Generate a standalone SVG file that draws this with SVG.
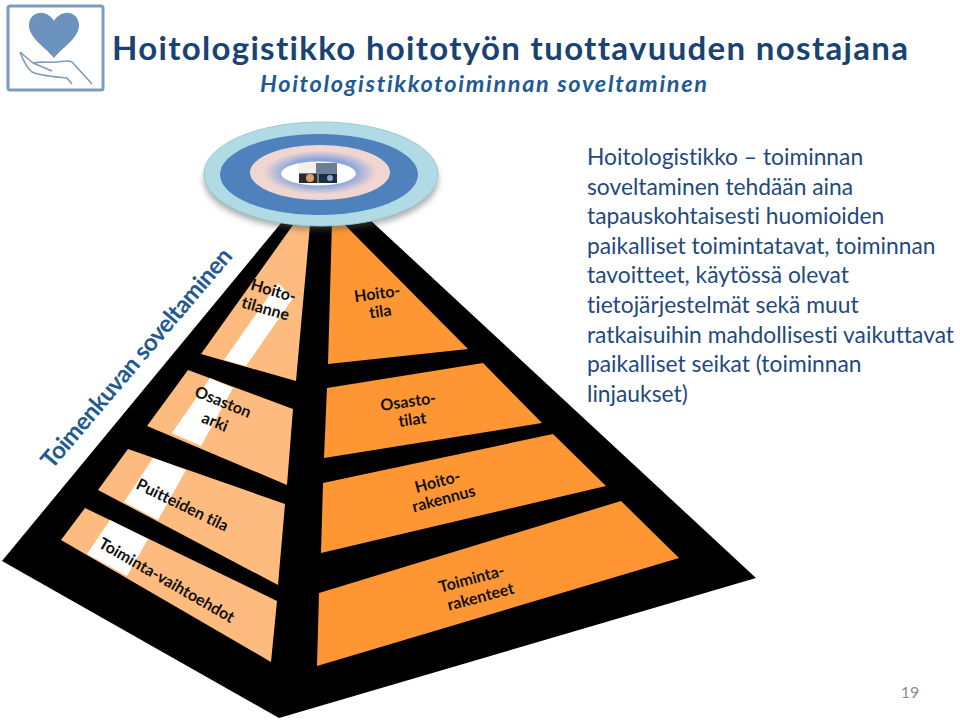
<svg xmlns="http://www.w3.org/2000/svg" width="960" height="720" viewBox="0 0 960 720">
<defs>
<radialGradient id="g" cx="50%" cy="50%" r="50%"><stop offset="50%" stop-color="#8ba6dc"/><stop offset="80%" stop-color="#f0d6d0"/></radialGradient>
<filter id="sh" x="-10%" y="-10%" width="120%" height="130%"><feGaussianBlur stdDeviation="3"/></filter>
</defs>
<style>
text{font-variant-ligatures:none}
.lt{fill:#fdbb7f}.dk{fill:#fe9733}.wh{fill:#fff}
.lb{font-family:Lato,"Liberation Sans",sans-serif;font-size:16px;font-weight:700;fill:#111;text-anchor:middle}
.body{font-family:Lato,"Liberation Sans",sans-serif;font-size:22.800px;fill:#1f497d}
.hd{font-family:Lato,"Liberation Sans",sans-serif;font-weight:700}
</style>
<rect width="960" height="720" fill="#fff"/>
<g id="logo" fill="none" stroke="#7d9cbc">
<rect x="8" y="6" width="95" height="84" rx="2" stroke-width="3"/>
<path d="M54 58C44 46 29 38 29 25C29 16 37 12 43 13C48 14 52 17 54 21C56 17 60 14 65 13C72 12 79 17 79 25C79 38 64 46 54 58Z" fill="#6b93bd" stroke="none"/>
<path d="M20 52L33 63C42 61 50 63 57 62C64 61 69 60 72 62L92 84M33 63L52 71M20 52C23 60 27 68 32 72C40 76 58 77 67 78L72 84" stroke-width="1.6"/>
</g>
<text class="hd" x="112" y="60" font-size="33" fill="#1a4272" textLength="796" lengthAdjust="spacing">Hoitologistikko hoitotyön tuottavuuden nostajana</text>
<text class="hd" x="260" y="92" font-size="23.500" font-style="italic" fill="#1f5a92" textLength="447" lengthAdjust="spacing">Hoitologistikkotoiminnan soveltaminen</text>
<g id="pyramid">
<polygon points="296,205 2,561 279,718 756,578 354,205" fill="#000"/>
<polygon class="lt" points="293,225 310,225 296,381 201,354"/>
<polygon class="wh" points="278,283 224,360 246,366 293,298"/>
<polygon class="lt" points="188,370 293,409 287,485 147,426"/>
<polygon class="wh" points="210,378 233,388 201,446 172,433"/>
<polygon class="lt" points="128,449 285,504 278,585 98,490"/>
<polygon class="wh" points="153,458 186,470 158,520 124,502"/>
<polygon class="lt" points="85,508 277,601 271,662 61,540"/>
<polygon class="wh" points="110,520 148,539 127,576 87,554"/>
<polygon class="dk" points="332,222 342,222 468,349 328,364"/>
<polygon class="dk" points="327,388 483,363 542,423 324,458"/>
<polygon class="dk" points="323,483 553,434 606,486 321,553"/>
<polygon class="dk" points="319,593 621,501 679,558 317,666"/>
</g>
<g id="labels">
<text class="lb" transform="translate(272,296) rotate(16)">Hoito-</text>
<text class="lb" transform="translate(264,314) rotate(16)">tilanne</text>
<text class="lb" transform="translate(378,299) rotate(-8)">Hoito-</text>
<text class="lb" transform="translate(381,317) rotate(-8)">tila</text>
<text class="lb" transform="translate(221,407) rotate(22)">Osaston</text>
<text class="lb" transform="translate(213,427) rotate(22)">arki</text>
<text class="lb" transform="translate(409,407) rotate(-8)">Osasto-</text>
<text class="lb" transform="translate(413,425) rotate(-8)">tilat</text>
<text class="lb" transform="translate(180,510) rotate(26)">Puitteiden tila</text>
<text class="lb" transform="translate(164,585) rotate(30)">Toiminta-vaihtoehdot</text>
<text class="lb" transform="translate(439,487) rotate(-15)">Hoito-</text>
<text class="lb" transform="translate(445,504) rotate(-15)">rakennus</text>
<text class="lb" transform="translate(473,584) rotate(-15)">Toiminta-</text>
<text class="lb" transform="translate(482,602) rotate(-15)">rakenteet</text>
<text class="hd" transform="translate(52,470) rotate(-49.6)" font-size="24" fill="#1f5a92" textLength="280" lengthAdjust="spacing">Toimenkuvan soveltaminen</text>
</g>
<g id="disc">
<ellipse cx="321" cy="180" rx="117" ry="50" fill="#555" opacity=".5" filter="url(#sh)"/>
<ellipse cx="321" cy="174" rx="117" ry="52" fill="#b0dbe5" stroke="#9cc" stroke-width="1"/>
<ellipse cx="319" cy="174.500" rx="99" ry="40.500" fill="#4f81bd"/>
<ellipse cx="320" cy="172.500" rx="70" ry="27.500" fill="url(#g)"/>
<ellipse cx="318.500" cy="173.500" rx="37.500" ry="12" fill="#fff"/>
<rect x="299" y="163" width="38" height="20" fill="#6b7f95"/>
<rect x="299" y="163" width="17" height="10" fill="#f4f0e8"/>
<rect x="299" y="174" width="18" height="9" fill="#2c2a2c"/>
<rect x="319" y="174" width="18" height="9" fill="#1c2c44"/>
<circle cx="310" cy="178" r="4" fill="#d9a070"/><circle cx="330" cy="178" r="3" fill="#8aa8c8"/>
</g>
<g id="body">
<text class="body" x="587" y="165">Hoitologistikko – toiminnan</text>
<text class="body" x="587" y="194.500">soveltaminen tehdään aina</text>
<text class="body" x="587" y="224">tapauskohtaisesti huomioiden</text>
<text class="body" x="587" y="253.500">paikalliset toimintatavat, toiminnan</text>
<text class="body" x="587" y="283">tavoitteet, käytössä olevat</text>
<text class="body" x="587" y="313">tietojärjestelmät sekä muut</text>
<text class="body" x="587" y="342.500">ratkaisuihin mahdollisesti vaikuttavat</text>
<text class="body" x="587" y="372">paikalliset seikat (toiminnan</text>
<text class="body" x="587" y="401.500">linjaukset)</text>
</g>
<text x="910" y="698" font-size="16" fill="#8b8b8b" text-anchor="middle" font-family="Lato">19</text>
</svg>
